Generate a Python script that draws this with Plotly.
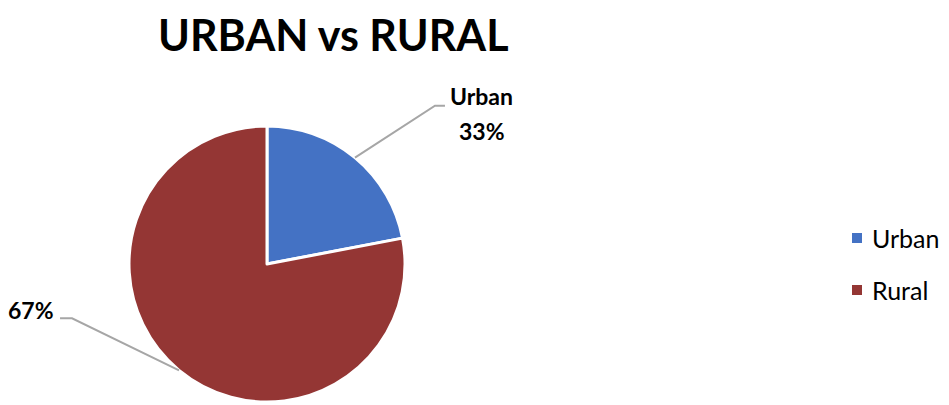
import math
import plotly.graph_objects as go

W, H = 949, 405
OFF = 8  # default page body margin
FW, FH = W - OFF, H - OFF

categories = ["Urban", "Rural"]
values = [22, 78]
pct_labels = ["33%", "67%"]
colors = ["#4472C4", "#943634"]
title_text = "URBAN vs RURAL"

# pie geometry (window pixels, top-left origin)
cx, cy, R = 267, 264, 138


def px(x):
    return (x - OFF) / FW


def py(y):
    return 1 - (y - OFF) / FH


fig = go.Figure()
fig.add_trace(go.Pie(
    labels=categories,
    values=values,
    sort=False,
    direction="clockwise",
    rotation=0,
    marker=dict(colors=colors, line=dict(color="white", width=3)),
    textinfo="none",
    hoverinfo="label+percent",
    showlegend=False,
    domain=dict(x=[px(cx - R), px(cx + R)], y=[py(cy + R), py(cy - R)]),
))

LBL_FONT = dict(family="Lato", size=23, color="#000000")

# leader lines and labels, anchored at each slice's mid-angle
total = sum(values)
cum = 0
label_style = [
    dict(elbow=(80, -52), tail=10),
    dict(elbow=(-107, -52), tail=-12),
]
for i, v in enumerate(values):
    mid = (cum + v / 2) / total * 2 * math.pi
    cum += v
    ex = cx + R * math.sin(mid)
    ey = cy - R * math.cos(mid)
    st = label_style[i]
    bx, by = ex + st["elbow"][0], ey + st["elbow"][1]
    tx = bx + st["tail"]
    fig.add_shape(type="path",
                  path=f"M {px(ex)} {py(ey)} L {px(bx)} {py(by)} L {px(tx)} {py(by)}",
                  xref="paper", yref="paper",
                  line=dict(color="#A6A6A6", width=2))
    if st["tail"] > 0:
        fig.add_annotation(x=px(tx + 37), y=py(by - 10), xref="paper", yref="paper",
                           text=f"<b>{categories[i]}</b>", showarrow=False,
                           xanchor="center", yanchor="middle", font=LBL_FONT)
        fig.add_annotation(x=px(tx + 37), y=py(by + 25), xref="paper", yref="paper",
                           text=f"<b>{pct_labels[i]}</b>", showarrow=False,
                           xanchor="center", yanchor="middle", font=LBL_FONT)
    else:
        fig.add_annotation(x=px(tx - 5), y=py(by - 8), xref="paper", yref="paper",
                           text=f"<b>{pct_labels[i]}</b>", showarrow=False,
                           xanchor="right", yanchor="middle", font=LBL_FONT,
                           borderpad=0)

# title
fig.add_annotation(x=px(333), y=1, xref="paper", yref="paper",
                   text=f"<b>{title_text}</b>", showarrow=False,
                   xanchor="center", yanchor="top", borderpad=0,
                   font=dict(family="Lato", size=43, color="#000000"))

# custom legend
leg_x, leg_y0, leg_gap, sq = 852, 238, 52, 10
for i, name in enumerate(categories):
    yy = leg_y0 + i * leg_gap
    fig.add_shape(type="rect", xref="paper", yref="paper",
                  x0=px(leg_x), x1=px(leg_x + sq), y0=py(yy + sq / 2), y1=py(yy - sq / 2),
                  fillcolor=colors[i], line=dict(width=0))
    fig.add_annotation(x=px(leg_x + sq + 8), y=py(yy), xref="paper", yref="paper",
                       text=name, showarrow=False, xanchor="left", yanchor="middle",
                       font=dict(family="Lato", size=25, color="#000000"))

fig.update_layout(
    width=FW, height=FH,
    margin=dict(l=0, r=0, t=0, b=0),
    paper_bgcolor="white",
    plot_bgcolor="white",
)

fig.write_html("out.html")
